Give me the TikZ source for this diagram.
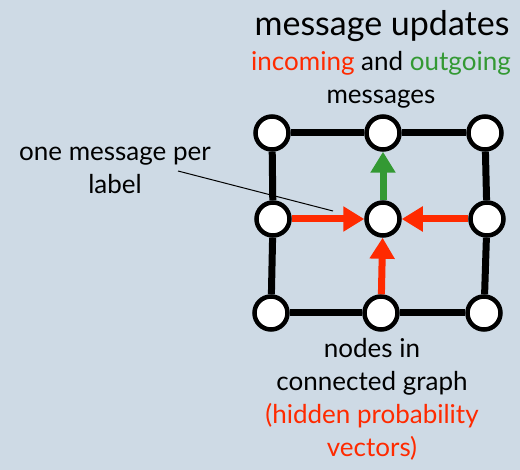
\documentclass[tikz,border=0pt]{standalone}
\usepackage{fontspec}
\setmainfont{Lato}
\usetikzlibrary{arrows.meta}
\definecolor{bgblue}{RGB}{206,218,229}
\definecolor{inred}{RGB}{255,42,0}
\definecolor{outgreen}{RGB}{51,153,51}

\begin{document}
\begin{tikzpicture}[x=1pt,y=-1pt,
    every node/.style={font=\fontsize{26}{33}\selectfont},
    vertex/.style={circle, draw, line width=4.5pt, fill=white, minimum size=33pt, inner sep=0pt},
    edge/.style={line width=7pt},
    msg/.style={line width=7pt, -{Triangle[length=21pt,width=24pt]}}]
        \fill[bgblue] (0,0) rectangle (520,470);
        % grid of label nodes
        \node[vertex] (tl) at (272,133) {};
        \node[vertex] (tm) at (383,133) {};
        \node[vertex] (tr) at (485,133) {};
        \node[vertex] (ml) at (273,219) {};
        \node[vertex] (c) at (383,219) {};
        \node[vertex] (mr) at (487,219) {};
        \node[vertex] (bl) at (271,313) {};
        \node[vertex] (bm) at (381,313) {};
        \node[vertex] (br) at (484,313) {};
        \draw[edge] (tl) -- (tm);
        \draw[edge] (tm) -- (tr);
        \draw[edge] (tl) -- (ml);
        \draw[edge] (ml) -- (bl);
        \draw[edge] (tr) -- (mr);
        \draw[edge] (mr) -- (br);
        \draw[edge] (bl) -- (bm);
        \draw[edge] (bm) -- (br);
        \draw[msg, inred] (ml) -- (c);
        \draw[msg, inred] (mr) -- (c);
        \draw[msg, inred] (bm) -- (c);
        \draw[msg, outgreen] (c) -- (tm);
        % labels
        \node[anchor=base, font=\fontsize{34}{40}\selectfont] (title) at (382,36) {message updates};
        \node[align=center] (dirs) at (381,80) {\textcolor{inred}{incoming} and \textcolor{outgreen}{outgoing}\\messages};
        \node[align=center] (perlbl) at (115,170) {one message per\\label};
        \node[align=center] (graph) at (372,399) {nodes in\\connected graph\\\textcolor{inred}{(hidden probability}\\\textcolor{inred}{vectors)}};
        \coordinate (ptrfrom) at (178,171);
        \coordinate (ptrto) at (333,211);
        \draw[line width=1pt] (ptrfrom) -- (ptrto);
    \end{tikzpicture}
\end{document}
